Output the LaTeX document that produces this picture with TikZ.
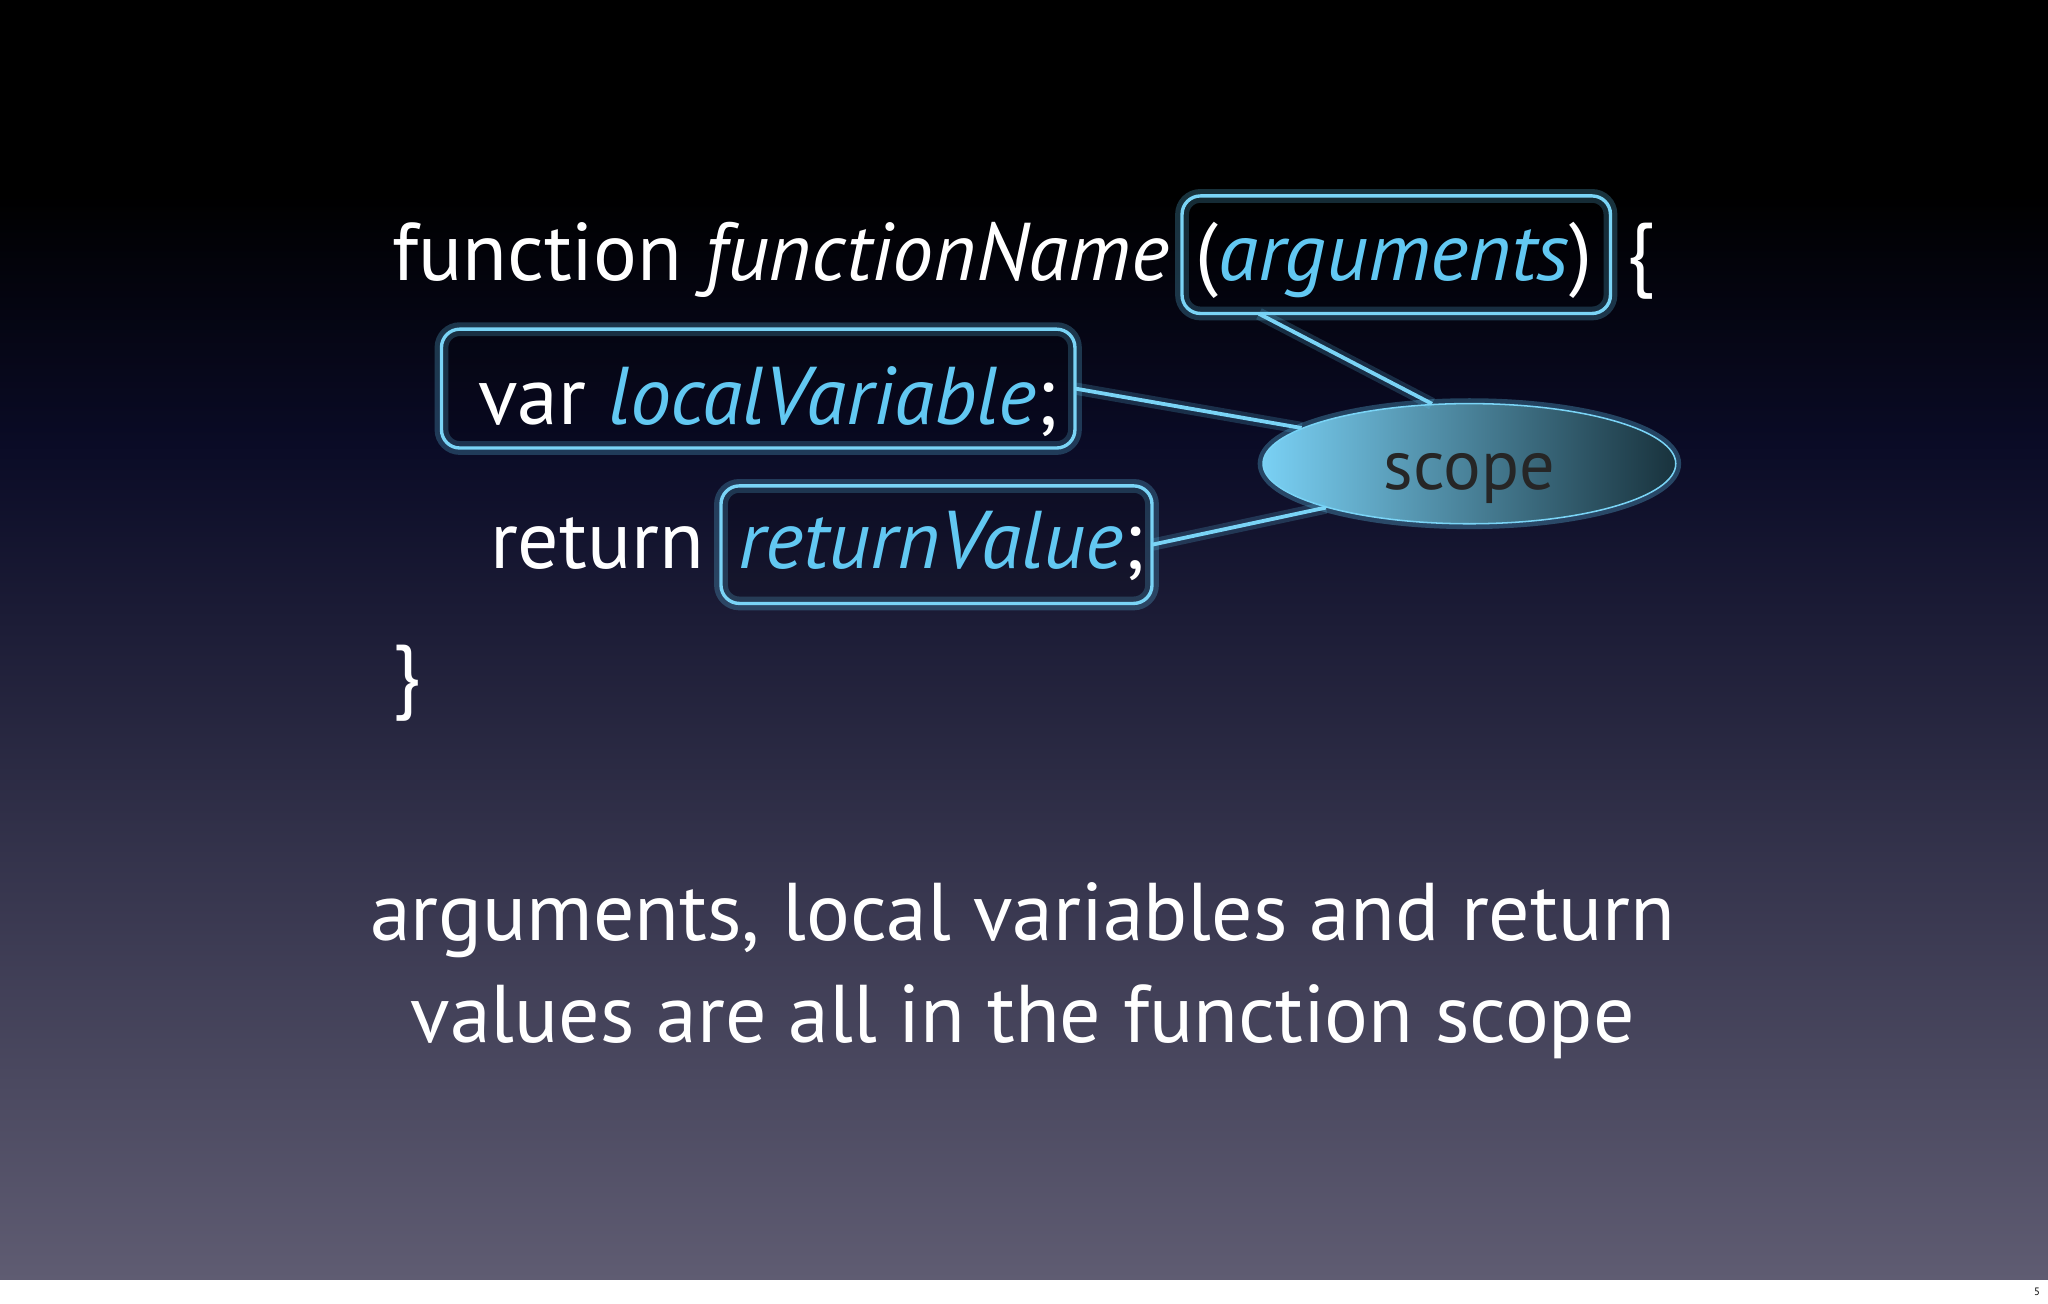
\documentclass[tikz,border=0pt]{standalone}
\usepackage{fontspec}
\setmainfont{PT Sans}
\usetikzlibrary{calc,shapes.geometric}
\definecolor{lblue}{HTML}{62C8F2}
\definecolor{edgeb}{HTML}{7AD4F6}
\definecolor{bgtop}{HTML}{000000}
\definecolor{bgmid}{HTML}{0A0B26}
\definecolor{bgbot}{HTML}{5F5C72}
\tikzset{
  code/.style={text=white,font=\fontsize{53.5}{60}\selectfont,inner sep=0pt,anchor=base west},
  hbox/.style={draw=edgeb,line width=2.2pt,rounded corners=12pt,fill=black,fill opacity=0.12,
     preaction={draw=lblue,draw opacity=0.25,line width=9pt}},
  conn/.style={draw=edgeb,line width=2.5pt,preaction={draw=lblue,draw opacity=0.2,line width=8pt}},
  body/.style={text=white,font=\fontsize{53.5}{60}\selectfont,inner sep=0pt,anchor=base}
}
\begin{document}
\begin{tikzpicture}[x=0.03cm,y=-0.03cm]
\useasboundingbox (0,0) rectangle (1568,998);
\fill[bgtop] (0,0) rectangle (1568,150);
\shade[top color=bgtop,bottom color=bgmid] (0,149.5) rectangle (1568,340);
\shade[top color=bgmid,bottom color=bgbot] (0,339.5) rectangle (1568,980);
\fill[white] (0,980) rectangle (1568,998);
\node[anchor=east,font=\fontsize{7}{8}\selectfont,inner sep=0pt] (pg) at (1562,989) {5};
% boxes
\path[hbox] (905,150) rectangle (1233,240);
\node[inner sep=0pt,minimum width=328*0.03cm,minimum height=90*0.03cm] (args) at (1069,195) {};
\path[hbox] (338,252) rectangle (823,343);
\node[inner sep=0pt,minimum width=485*0.03cm,minimum height=91*0.03cm] (lv) at (580.5,297.5) {};
\path[hbox] (552,372) rectangle (882,462);
\node[inner sep=0pt,minimum width=330*0.03cm,minimum height=90*0.03cm] (rv) at (717,417) {};
% texts
\node[code] (fn) at (300,215) {function \textit{functionName}};
\node[code] (lp) at (915,215) {(\textcolor{lblue}{\textit{arguments}})};
\node[code] (brace) at (1245,215) {\{};
\node[code] (var) at (366,325) {var \textcolor{lblue}{\textit{localVariable}};};
\node[code] (ret) at (375,435) {return};
\node[code] (retv) at (565,435) {\textcolor{lblue}{\textit{returnValue}};};
\node[code] (cb) at (300,538) {\}};
% ellipse
\node[ellipse,minimum width=316*0.03cm,minimum height=92*0.03cm,draw=edgeb,line width=1pt,
  left color=lblue!85!white,right color=black!75!lblue,
  preaction={draw=lblue,draw opacity=0.3,line width=7pt}] (scope) at (1125,355) {};
\node[font=\fontsize{46}{50}\selectfont,text=black!85,anchor=base,inner sep=0pt] (scopet) at (1125,375) {scope};
% connectors
\draw[conn] ($(args.south west)!0.18!(args.south east)$) -- (scope.122);
\draw[conn] (lv.east) -- (scope.168);
\draw[conn] (rv.east) -- (scope.197);
% body text
\node[body] (l1) at (783,720) {arguments, local variables and return};
\node[body] (l2) at (783,798) {values are all in the function scope};
\end{tikzpicture}
\end{document}
